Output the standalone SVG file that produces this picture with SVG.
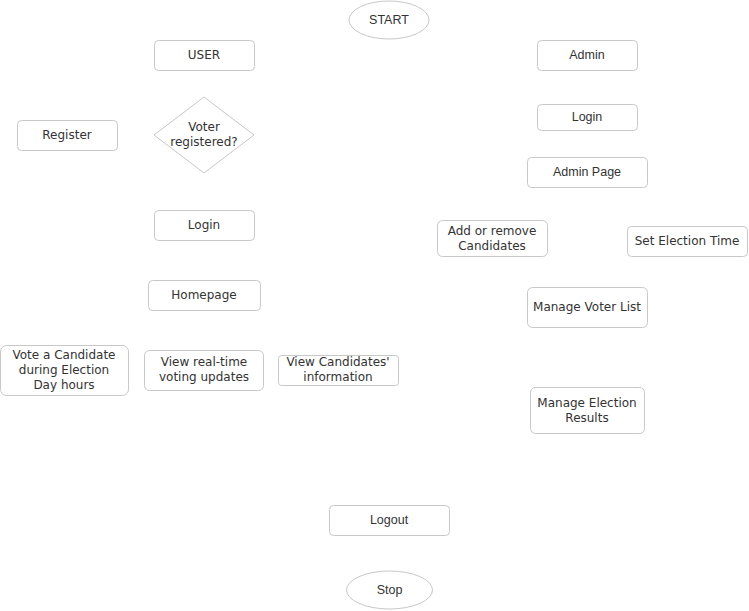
<svg xmlns="http://www.w3.org/2000/svg" width="749" height="611" viewBox="0 0 749 611">
<style>
.b{fill:#fff;stroke:#c8c8c8;stroke-width:1}
.v{font-family:"DejaVu Sans",Verdana,sans-serif;font-size:12px;fill:#333;text-anchor:middle}
.a{font-family:"Liberation Sans",Arial,sans-serif;font-size:12.5px;fill:#333;text-anchor:middle}
</style>
<rect width="749" height="611" fill="#fff"/>
<g id="start"><ellipse class="b" cx="389" cy="20" rx="40" ry="19"/><text class="a" x="389" y="24">START</text></g>
<g id="user"><rect class="b" x="154.5" y="40.5" width="100" height="30" rx="4"/><text class="v" x="204" y="59">USER</text></g>
<g id="voterReg"><polygon class="b" points="204,97 254,135 204,173 154,135"/><text class="v" x="204" y="131">Voter</text><text class="v" x="204" y="146">registered?</text></g>
<g id="register"><rect class="b" x="17.5" y="120.5" width="100" height="30" rx="4"/><text class="v" x="67" y="139">Register</text></g>
<g id="userLogin"><rect class="b" x="154.5" y="210.5" width="100" height="30" rx="4"/><text class="v" x="204" y="229">Login</text></g>
<g id="homepage"><rect class="b" x="148.5" y="280.5" width="112" height="30" rx="4"/><text class="v" x="204" y="299">Homepage</text></g>
<g id="vote"><rect class="b" x="0.5" y="345.5" width="128" height="50" rx="6"/><text class="v" x="64" y="359">Vote a Candidate</text><text class="v" x="64" y="374">during Election</text><text class="v" x="64" y="389">Day hours</text></g>
<g id="viewUpdates"><rect class="b" x="144.5" y="350.5" width="119" height="40" rx="5"/><text class="v" x="204" y="366">View real-time</text><text class="v" x="204" y="381">voting updates</text></g>
<g id="viewCand"><rect class="b" x="278.5" y="355.5" width="120" height="30" rx="3"/><text class="v" x="338" y="366">View Candidates'</text><text class="v" x="338" y="381">information</text></g>
<g id="admin"><rect class="b" x="537.5" y="40.5" width="100" height="30" rx="4"/><text class="a" x="587" y="59">Admin</text></g>
<g id="adminLogin"><rect class="b" x="537.5" y="104.5" width="100" height="26" rx="4"/><text class="a" x="587" y="121">Login</text></g>
<g id="adminPage"><rect class="b" x="527.5" y="157.5" width="120" height="30" rx="4"/><text class="a" x="587" y="176">Admin Page</text></g>
<g id="addRemove"><rect class="b" x="437.5" y="220.5" width="110" height="36" rx="5"/><text class="v" x="492" y="235">Add or remove</text><text class="v" x="492" y="250">Candidates</text></g>
<g id="setTime"><rect class="b" x="627.5" y="226.5" width="120" height="30" rx="4"/><text class="v" x="687" y="245">Set Election Time</text></g>
<g id="voterList"><rect class="b" x="527.5" y="287.5" width="120" height="40" rx="5"/><text class="v" x="587" y="311">Manage Voter List</text></g>
<g id="results"><rect class="b" x="530.5" y="387.5" width="114" height="46" rx="5"/><text class="v" x="587" y="407">Manage Election</text><text class="v" x="587" y="422">Results</text></g>
<g id="logout"><rect class="b" x="329.5" y="505.5" width="120" height="30" rx="4"/><text class="a" x="389" y="524">Logout</text></g>
<g id="stop"><ellipse class="b" cx="389.5" cy="590" rx="43" ry="19"/><text class="a" x="389.5" y="594">Stop</text></g>
<g id="connectors"></g>
</svg>
